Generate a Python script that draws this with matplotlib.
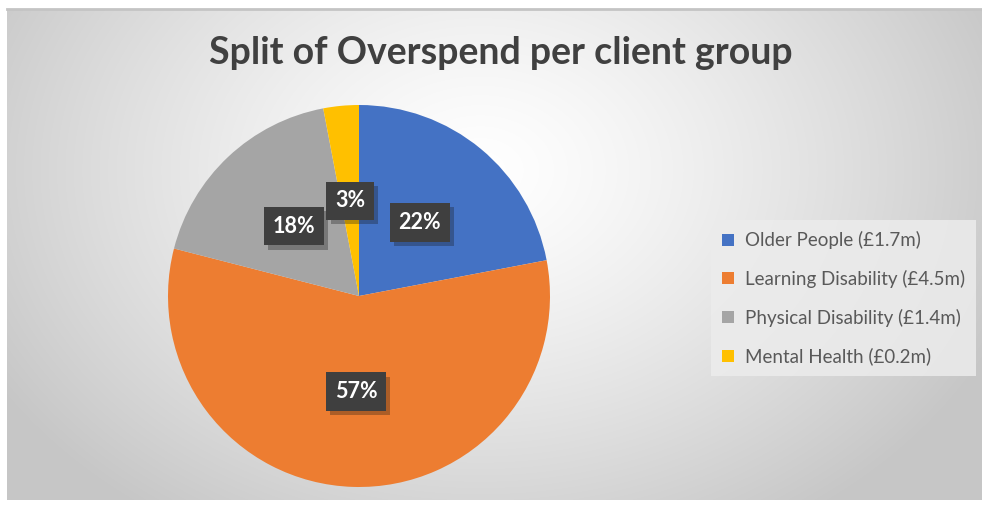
import matplotlib.pyplot as plt
import matplotlib.patheffects as pe
import numpy as np

groups = ['Older People', 'Learning Disability', 'Physical Disability', 'Mental Health']
amounts = ['£1.7m', '£4.5m', '£1.4m', '£0.2m']
shares = [22, 57, 18, 3]
colours = ['#4472C4', '#ED7D31', '#A5A5A5', '#FFC000']

W, H = 982, 508
fig = plt.figure(figsize=(W / 100, H / 100), dpi=100)
fig.patch.set_facecolor('white')

# chart area with radial gradient background
bx0, by0, bx1, by1 = 7, 9, 982, 500
bg = fig.add_axes([bx0 / W, 1 - by1 / H, (bx1 - bx0) / W, (by1 - by0) / H])
yy, xx = np.mgrid[by0:by1, bx0:bx1]
d = np.sqrt(((xx - 480) / 560) ** 2 + ((yy - 170) / 420) ** 2)
g = 1.0 - 0.22 * np.clip(d, 0, 1.0) ** 1.3
bg.imshow(np.dstack([g, g, g]), aspect='auto', extent=[0, 1, 0, 1])
bg.set_axis_off()
fig.add_artist(plt.Line2D([bx0 / W, bx1 / W], [1 - by0 / H] * 2, color='#c4c4c4', lw=2))

plt.rcParams['font.family'] = ['Lato', 'DejaVu Sans']

fig.text(501 / W, 1 - 53 / H, 'Split of Overspend per client group', ha='center', va='center',
         fontsize=27, fontweight='bold', color='#404040')

# pie
cx, cy, r = 359, 296, 191
ax = fig.add_axes([(cx - r) / W, 1 - (cy + r) / H, 2 * r / W, 2 * r / H])
wedges, _ = ax.pie(shares, colors=colours, startangle=90, counterclock=False, radius=1,
                   wedgeprops=dict(linewidth=0))
ax.set_xlim(-1, 1)
ax.set_ylim(-1, 1)
ax.set_aspect('equal')
ax.set_axis_off()

ang0 = 90.0
for s in shares:
    mid = np.deg2rad(ang0 - s * 3.6 / 2)
    ang0 -= s * 3.6
    x, y = 0.5 * np.cos(mid), 0.5 * np.sin(mid)
    t = ax.text(x, y, f'{s}%', ha='center', va='center', fontsize=15.5, fontweight='bold',
                color='white', bbox=dict(boxstyle='square,pad=0.4', fc='#3f3f3f', ec='none'))
    t.get_bbox_patch().set_path_effects([pe.SimplePatchShadow(offset=(3, -3), alpha=0.3), pe.Normal()])

handles = [plt.Rectangle((0, 0), 1, 1, fc=c, ec='none') for c in colours]
labels = [f'{g_} ({a})' for g_, a in zip(groups, amounts)]
leg = fig.legend(handles, labels, loc='upper left',
                 bbox_to_anchor=(711 / W, 1 - 220 / H), frameon=True, fontsize=13.5,
                 labelspacing=1.1, handlelength=0.6, handleheight=0.6, handletextpad=0.6,
                 borderpad=0.6, borderaxespad=0)
leg.get_frame().set_facecolor('#ececec')
leg.get_frame().set_edgecolor('none')
leg.get_frame().set_boxstyle('square', pad=0)
leg.get_frame().set_alpha(0.85)
for t in leg.get_texts():
    t.set_color('#595959')

fig.savefig('out.png', dpi=100)
